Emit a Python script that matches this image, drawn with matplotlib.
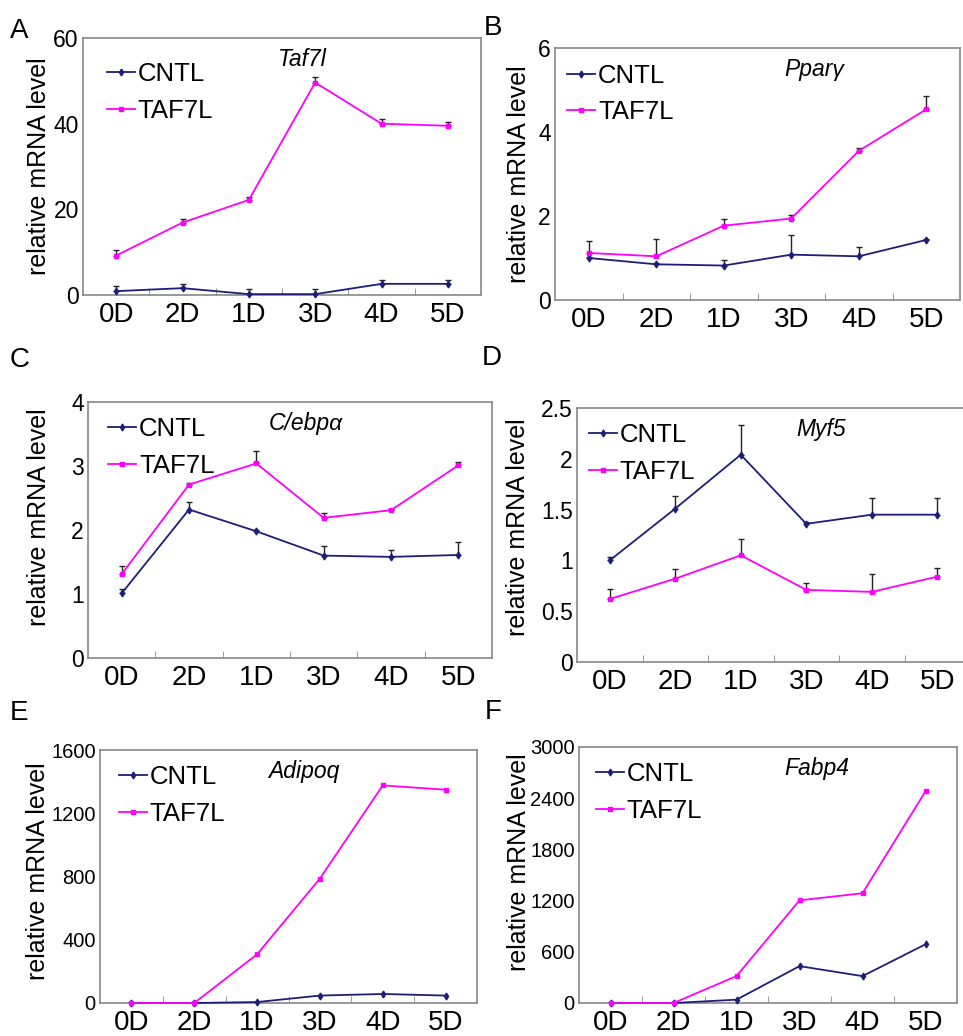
import matplotlib
matplotlib.use('Agg')
import matplotlib.pyplot as plt
import numpy as np

plt.rcParams['font.family'] = ['Liberation Sans', 'DejaVu Sans']

days = ['0D', '2D', '1D', '3D', '4D', '5D']

# A - Taf7l
taf7l_cntl = [0.9, 1.6, 0.2, 0.2, 2.6, 2.6]
taf7l_cntl_err = [1.2, 1.0, 1.2, 1.1, 1.0, 0.9]
taf7l_taf = [9.2, 16.9, 22.2, 49.6, 40.0, 39.5]
taf7l_taf_err = [1.3, 0.8, 0.7, 1.2, 1.0, 0.8]

# B - Ppar gamma
pparg_cntl = [1.0, 0.85, 0.82, 1.08, 1.04, 1.43]
pparg_cntl_err = [0.03, 0.03, 0.14, 0.47, 0.22, 0.03]
pparg_taf = [1.12, 1.04, 1.77, 1.94, 3.55, 4.54]
pparg_taf_err = [0.29, 0.41, 0.15, 0.08, 0.08, 0.32]

# C - C/ebp alpha
cebpa_cntl = [1.01, 2.32, 1.98, 1.60, 1.58, 1.61]
cebpa_cntl_err = [0.07, 0.11, 0.02, 0.15, 0.11, 0.21]
cebpa_taf = [1.31, 2.71, 3.04, 2.19, 2.31, 3.01]
cebpa_taf_err = [0.13, 0.02, 0.20, 0.08, 0.02, 0.05]

# D - Myf5
myf5_cntl = [1.0, 1.51, 2.04, 1.36, 1.45, 1.45]
myf5_cntl_err = [0.03, 0.12, 0.29, 0.02, 0.16, 0.16]
myf5_taf = [0.62, 0.82, 1.05, 0.71, 0.69, 0.84]
myf5_taf_err = [0.10, 0.10, 0.16, 0.07, 0.18, 0.09]

# E - Adipoq
adipoq_cntl = [0, 0, 6, 47, 57, 47]
adipoq_taf = [0, 0, 308, 787, 1376, 1349]

# F - Fabp4
fabp4_cntl = [0, 0, 39, 432, 315, 688]
fabp4_taf = [0, 0, 315, 1203, 1286, 2481]

W, H = 963, 1036
CNTL_COLOR = '#1e1e78'
TAF_COLOR = '#ff00ff'

panels = [
    # letter, gene, cntl, cntl_err, taf, taf_err, ymax, yticks, ytick size, box(l,r,t,b),
    # letter pos, title x, legend anchor, ylabel coords
    ('A', 'Taf7l', taf7l_cntl, taf7l_cntl_err, taf7l_taf, taf7l_taf_err,
     60, [0, 20, 40, 60], 16.5, (83, 481, 38, 295), (10, 31), 0.55, (0.06, 0.905), (-0.08, 0.5)),
    ('B', 'Pparγ', pparg_cntl, pparg_cntl_err, pparg_taf, pparg_taf_err,
     6, [0, 2, 4, 6], 16.5, (555, 960, 48, 300), (484, 28), 0.64, (0.03, 0.938), (-0.059, 0.5)),
    ('C', 'C/ebpα', cebpa_cntl, cebpa_cntl_err, cebpa_taf, cebpa_taf_err,
     4, [0, 1, 2, 3, 4], 16.5, (88, 492, 402, 658), (10, 360), 0.54, (0.05, 0.94), (-0.092, 0.55)),
    ('D', 'Myf5', myf5_cntl, myf5_cntl_err, myf5_taf, myf5_taf_err,
     2.5, [0, 0.5, 1, 1.5, 2, 2.5], 16.5, (577, 970, 408, 662), (482, 358), 0.62, (0.03, 0.94), (-0.12, 0.53)),
    ('E', 'Adipoq', adipoq_cntl, None, adipoq_taf, None,
     1600, [0, 400, 800, 1200, 1600], 14.5, (100, 477, 750, 1003), (10, 713), 0.54, (0.05, 0.94), (-0.133, 0.52)),
    ('F', 'Fabp4', fabp4_cntl, None, fabp4_taf, None,
     3000, [0, 600, 1200, 1800, 2400, 3000], 14.5, (579, 957, 747, 1003), (485, 712), 0.63, (0.045, 0.94), (-0.127, 0.55)),
]

fig = plt.figure(figsize=(W / 100, H / 100), dpi=100)

for (letter, gene, cntl, cntl_err, taf, taf_err, ymax, yticks, ytick_size, box,
     lpos, title_x, leg_pos, ylab_pos) in panels:
    l, r, t, b = box
    ax = fig.add_axes([l / W, 1 - b / H, (r - l) / W, (b - t) / H])
    x = np.arange(len(days))

    ax.plot(x, cntl, color=CNTL_COLOR, marker='d', markersize=3.5, lw=1.3,
            label='CNTL', clip_on=False, zorder=3)
    ax.plot(x, taf, color=TAF_COLOR, marker='s', markersize=3, lw=1.3,
            label='TAF7L', clip_on=False, zorder=3)
    if cntl_err is not None:
        ax.errorbar(x, cntl, yerr=[np.zeros(len(x)), cntl_err], fmt='none',
                    ecolor='#222222', elinewidth=1, capsize=2.5, capthick=1, zorder=2)
    if taf_err is not None:
        ax.errorbar(x, taf, yerr=[np.zeros(len(x)), taf_err], fmt='none',
                    ecolor='#222222', elinewidth=1, capsize=2.5, capthick=1, zorder=2)

    ax.set_xlim(-0.5, len(days) - 0.5)
    ax.set_ylim(0, ymax)
    ax.set_xticks(x)
    ax.set_xticklabels(days, fontsize=20)
    ax.set_xticks(np.arange(0.5, len(days) - 1, 1), minor=True)
    ax.set_yticks(yticks)
    ax.set_yticklabels([f'{v:g}' for v in yticks], fontsize=ytick_size)
    ax.tick_params(axis='x', which='major', length=0, pad=5)
    ax.tick_params(axis='x', which='minor', length=5, direction='in', color='#888888')
    ax.tick_params(axis='y', length=0, pad=3)
    for s in ax.spines.values():
        s.set_color('#888888')
        s.set_linewidth(1.2)

    ax.set_ylabel('relative mRNA level', fontsize=18)
    ax.yaxis.set_label_coords(*ylab_pos)

    ax.text(title_x, 0.915, gene, transform=ax.transAxes, ha='center', va='center',
            fontsize=16.5, style='italic')

    ax.legend(loc='upper left', bbox_to_anchor=leg_pos, frameon=False, fontsize=18.5,
              handlelength=1.1, handletextpad=0.1, borderpad=0, borderaxespad=0,
              labelspacing=0.5)

    fig.text(lpos[0] / W, 1 - lpos[1] / H, letter, fontsize=20, ha='left', va='center')

fig.savefig('out.png', dpi=100)
